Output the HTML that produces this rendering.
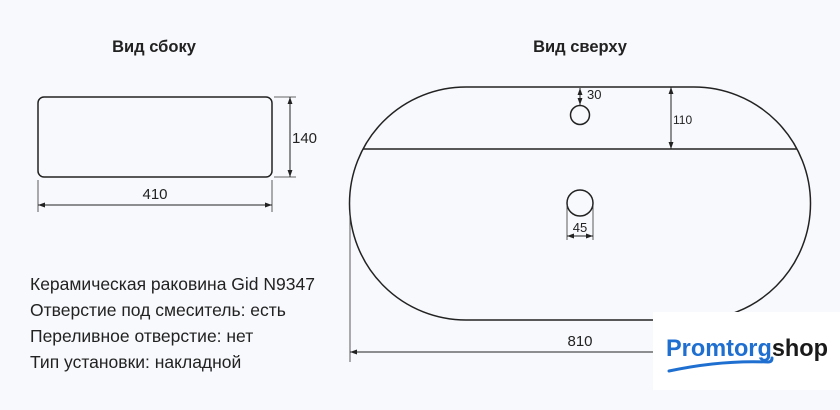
<!DOCTYPE html>
<html><head><meta charset="utf-8"><style>
body{margin:0;background:#f8f9fc;}
svg{display:block;font-family:"Liberation Sans",Arial,sans-serif;}
</style></head><body>
<svg width="840" height="410" viewBox="0 0 840 410" xmlns="http://www.w3.org/2000/svg">
<defs>
<marker id="a" viewBox="0 0 10 10" refX="10" refY="5" markerWidth="7" markerHeight="7" orient="auto-start-reverse"><path d="M0,1.5 L10,5 L0,8.5 z" fill="#222"/></marker>
</defs>
<rect width="840" height="410" fill="#f8f9fc"/>
<g fill="#222" font-weight="bold" font-size="16.5" text-anchor="middle">
<text x="154" y="52">Вид сбоку</text>
<text x="580" y="52">Вид сверху</text>
</g>
<g stroke="#222" fill="none" stroke-width="1.5">
<rect x="38" y="97" width="234" height="80" rx="6"/>
<path d="M466,87 H694 A116.5,116.5 0 0 1 694,320 H466 A116.5,116.5 0 0 1 466,87 Z"/>
<line x1="363" y1="149" x2="797" y2="149"/>
<circle cx="580" cy="115" r="9.5"/>
<circle cx="580" cy="203" r="13"/>
</g>
<g stroke="#333" stroke-width="0.8" fill="none">
<line x1="274" y1="97" x2="296" y2="97"/><line x1="274" y1="177" x2="296" y2="177"/>
<line x1="38" y1="180" x2="38" y2="212"/><line x1="272" y1="180" x2="272" y2="212"/>
<line x1="567" y1="205" x2="567" y2="240"/><line x1="593" y1="205" x2="593" y2="240"/>
<line x1="350" y1="210" x2="350" y2="362"/>
</g>
<g stroke="#222" stroke-width="1" marker-start="url(#a)" marker-end="url(#a)">
<line x1="290" y1="97" x2="290" y2="177"/>
<line x1="38" y1="205" x2="272" y2="205"/>
<line x1="671" y1="87" x2="671" y2="149"/>
<line x1="580" y1="88" x2="580" y2="105"/>
<line x1="567" y1="236" x2="593" y2="236"/>
<line x1="350" y1="352" x2="810" y2="352"/>
</g>
<g fill="#222" font-size="15">
<text x="292" y="143">140</text>
<text x="155" y="199" text-anchor="middle">410</text>
<text x="673" y="124" font-size="12">110</text>
<text x="587" y="99" font-size="13">30</text>
<text x="580" y="232" font-size="13" text-anchor="middle">45</text>
<text x="580" y="346" text-anchor="middle">810</text>
</g>
<g fill="#222" font-size="17.5">
<text x="30" y="290">Керамическая раковина Gid N9347</text>
<text x="30" y="316">Отверстие под смеситель: есть</text>
<text x="30" y="342">Переливное отверстие: нет</text>
<text x="30" y="368">Тип установки: накладной</text>
</g>
<rect x="653" y="312" width="187" height="78" fill="#fff"/>
<text x="666" y="356" font-size="24" font-weight="bold" fill="#1f6fd0" textLength="162" lengthAdjust="spacingAndGlyphs">Promtorg<tspan fill="#1a1a1a">shop</tspan></text>
<path d="M669,371 Q720,360 768,362 Q772,362 772,358" stroke="#1f6fd0" stroke-width="3" fill="none" stroke-linecap="round"/>
</svg>
</body></html>
